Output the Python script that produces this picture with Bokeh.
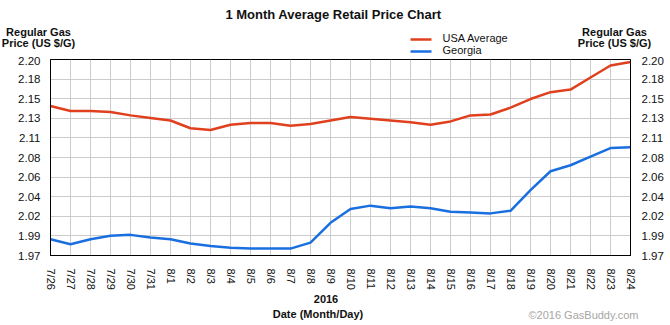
import math
from bokeh.plotting import figure
from bokeh.models import FixedTicker, Range1d, LinearAxis, ColumnDataSource
from bokeh.layouts import column
from bokeh.core.properties import value
from bokeh.embed import file_html
from bokeh.resources import INLINE

dates = ["7/26", "7/27", "7/28", "7/29", "7/30", "7/31", "8/1", "8/2", "8/3", "8/4",
         "8/5", "8/6", "8/7", "8/8", "8/9", "8/10", "8/11", "8/12", "8/13", "8/14",
         "8/15", "8/16", "8/17", "8/18", "8/19", "8/20", "8/21", "8/22", "8/23", "8/24"]
usa = [2.144, 2.138, 2.138, 2.137, 2.133, 2.130, 2.127, 2.118, 2.116, 2.122,
       2.124, 2.124, 2.121, 2.123, 2.127, 2.131, 2.129, 2.127, 2.125, 2.122,
       2.126, 2.133, 2.134, 2.142, 2.152, 2.160, 2.163, 2.177, 2.191, 2.195]
georgia = [1.989, 1.983, 1.989, 1.993, 1.994, 1.991, 1.989, 1.984, 1.981, 1.979,
           1.978, 1.978, 1.978, 1.985, 2.008, 2.024, 2.028, 2.025, 2.027, 2.025,
           2.021, 2.020, 2.019, 2.022, 2.046, 2.068, 2.075, 2.085, 2.095, 2.096]
series_names = ["USA Average", "Georgia"]
y_min, y_max = 1.97, 2.198
y_labels = ["1.97", "1.99", "2.02", "2.04", "2.06", "2.08", "2.11", "2.13", "2.15", "2.18", "2.20"]

RED = "#e0401e"
BLUE = "#1a6fe0"
FONT = "Liberation Sans"
TXT = "#111111"

W = 670
HEAD_H = 56
FOOT_TOP = 292


def blank_fig(h, y0, y1):
    f = figure(frame_width=W, frame_height=h, output_backend="svg", toolbar_location=None,
               title_location=None,
               x_range=Range1d(0, W), y_range=Range1d(y1, y0),
               x_axis_type=None, y_axis_type=None,
               min_border_left=0, min_border_right=0,
               min_border_top=0, min_border_bottom=0)
    f.min_border = 0
    f.frame_align = False
    f.outline_line_color = None
    f.grid.visible = False
    return f


# ---------- header (title, axis titles, legend) ----------
head = blank_fig(HEAD_H, 0, HEAD_H)
head.text(x=[333], y=[13.5], text=["1 Month Average Retail Price Chart"],
          text_font=value(FONT), text_font_size=value("13px"), text_font_style="bold",
          text_color=TXT, text_align="center", text_baseline="alphabetic")
head.text(x=[38, 38, 614, 614], y=[31.5, 42, 31.5, 42],
          text=["Regular Gas", "Price (US $/G)", "Regular Gas", "Price (US $/G)"],
          text_font=value(FONT), text_font_size=value("11px"), text_font_style="bold",
          text_color=TXT, text_align="center", text_baseline="alphabetic")
head.segment(x0=[410, 410], y0=[39, 51], x1=[431, 431], y1=[39, 51],
             line_color=[RED, BLUE], line_width=2.5)
head.text(x=[442, 442], y=[37.5, 49.5], text=series_names,
          text_font=value(FONT), text_font_size=value("11px"),
          text_color=TXT, text_align="left", text_baseline="alphabetic")

# ---------- main chart ----------
x = list(range(len(dates)))
src = ColumnDataSource(dict(x=x, usa=usa, georgia=georgia))

p = figure(width=W, height=FOOT_TOP - HEAD_H,
           output_backend="svg", toolbar_location=None, title_location=None,
           x_range=Range1d(0, len(dates) - 1), y_range=Range1d(y_min, y_max),
           min_border_left=50, min_border_right=40, min_border_top=3, min_border_bottom=33)
p.frame_align = False
p.outline_line_color = "black"
p.outline_line_width = 1

p.line("x", "usa", source=src, line_color=RED, line_width=2.5)
p.line("x", "georgia", source=src, line_color=BLUE, line_width=2.5)

n = len(y_labels)
yticks = [y_min + i * (y_max - y_min) / (n - 1) for i in range(n)]
overrides = {t: lab for t, lab in zip(yticks, y_labels)}


def style_axis(ax, size="11.5px"):
    ax.major_tick_line_color = None
    ax.minor_tick_line_color = None
    ax.axis_line_color = "black"
    ax.major_label_text_font = FONT
    ax.major_label_text_font_size = size
    ax.major_label_text_color = TXT


p.yaxis.ticker = FixedTicker(ticks=yticks)
p.yaxis.major_label_overrides = overrides
p.yaxis.major_label_standoff = 4
style_axis(p.yaxis[0])

ry = LinearAxis(ticker=FixedTicker(ticks=yticks), major_label_overrides=overrides,
                major_label_standoff=5)
style_axis(ry)
p.add_layout(ry, "right")

p.xaxis.ticker = FixedTicker(ticks=x)
p.xaxis.major_label_overrides = {i: d for i, d in enumerate(dates)}
p.xaxis.major_label_orientation = -math.pi / 2
p.xaxis.major_label_standoff = 7
style_axis(p.xaxis[0], size="11px")

p.xgrid.ticker = FixedTicker(ticks=x)
p.ygrid.ticker = FixedTicker(ticks=yticks)
for g in (p.xgrid[0], p.ygrid[0]):
    g.grid_line_color = "#cccccc"
    g.grid_line_width = 1

# ---------- footer (x axis titles, copyright) ----------
foot = blank_fig(325 - FOOT_TOP, FOOT_TOP, 325)
foot.text(x=[325.5, 317.5], y=[298.5, 313.5], text=["2016", "Date (Month/Day)"],
          text_font=value(FONT), text_font_size=value("11px"), text_font_style="bold",
          text_color=TXT, text_align="center", text_baseline="alphabetic")
foot.text(x=[583], y=[314.5], text=["©2016 GasBuddy.com"],
          text_font=value(FONT), text_font_size=value("11px"),
          text_color="#a6a6a6", text_align="center", text_baseline="alphabetic")

layout = column(head, p, foot, spacing=0)
open("out.html", "w").write(file_html(layout, INLINE))
